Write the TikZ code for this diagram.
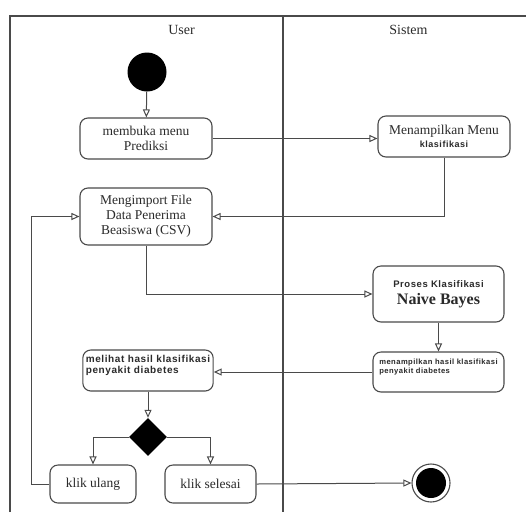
\documentclass[tikz,border=0pt]{standalone}
\usepackage{fontspec}
\setmainfont{Liberation Serif}
\newfontfamily\sansb{Liberation Sans}[LetterSpace=6]
\usetikzlibrary{arrows.meta,shapes.geometric}
\definecolor{ln}{HTML}{4A4A4A}
\definecolor{tx}{HTML}{2A2A2A}
\newcommand{\serif}{\fontsize{13.5}{15}\selectfont}
\begin{document}
\begin{tikzpicture}[x=1pt,y=-1pt,
  act/.style={draw=ln,line width=1.1pt,rectangle,rounded corners=8pt,inner sep=2pt,text=tx,align=center,font=\serif},
  flow/.style={draw=ln,line width=1pt,-{Triangle[open,length=8pt,width=7pt,line width=1pt]}},
  lane/.style={draw=ln,line width=1.2pt},
  lanetitle/.style={text=tx,font=\fontsize{14}{16}\selectfont}]
\useasboundingbox (0,0) rectangle (526,512);
\fill[white] (0,0) rectangle (526,512);
% swimlanes
\draw[lane] (10,512) -- (10,16) -- (526,16);
\draw[lane] (283,16) -- (283,512);
\node[lanetitle] (tuser) at (181.5,30) {User};
\node[lanetitle] (tsis) at (408.5,30) {Sistem};
% nodes
\node[circle,fill=black,minimum size=39pt,inner sep=0] (start) at (147,72) {};
\node[act,minimum width=132pt,minimum height=41pt] (b1) at (146,138.5) {membuka menu\\Prediksi};
\node[act,minimum width=132pt,minimum height=41pt] (b2) at (444,136.5) {Menampilkan Menu\\[-2pt]{\sansb\bfseries\fontsize{9}{10}\selectfont klasifikasi}};
\node[act,minimum width=132pt,minimum height=57pt] (b3) at (146,216.5) {Mengimport File\\Data Penerima\\Beasiswa (CSV)};
\node[act,minimum width=131pt,minimum height=56pt] (b4) at (438.5,294) {{\sansb\bfseries\fontsize{9.5}{11}\selectfont Proses Klasifikasi}\\[2pt]{\bfseries\fontsize{16}{17}\selectfont Naive Bayes}};
\node[act,minimum width=131pt,minimum height=40pt,align=left,inner xsep=4pt,font=\sansb\bfseries\fontsize{7.6}{9.5}\selectfont] (b5) at (438.5,372) {menampilkan hasil klasifikasi\\penyakit diabetes\\[2pt]};
\node[act,minimum width=130pt,minimum height=41pt,align=left,inner xsep=3pt,font=\sansb\bfseries\fontsize{10}{11.5}\selectfont] (b6) at (148,370.5) {melihat hasil klasifikasi\\penyakit diabetes\\[1pt]};
\node[diamond,fill=black,minimum width=38pt,minimum height=38pt,inner sep=0] (dec) at (148,437) {};
\node[act,minimum width=86pt,minimum height=38pt] (b7) at (93,484) {klik ulang};
\node[act,minimum width=91pt,minimum height=38pt] (b8) at (210.5,484) {klik selesai};
\node[circle,draw=ln,line width=1.1pt,minimum size=38pt,inner sep=0] (end) at (431,483) {};
\node[circle,fill=black,minimum size=30pt,inner sep=0] (endin) at (431,483) {};
\coordinate (loop) at (31,484);
% connectors
\draw[flow] (start) -- (b1);
\draw[flow] (b1.east) -- (b1.east -| b2.west);
\draw[flow] (b2.south) |- (b3.east);
\draw[flow] (b3.south) |- (b4.west);
\draw[flow] (b4.south) -- (b5.north);
\draw[flow] (b5.west) -- (b5.west -| b6.east);
\draw[flow] (b6.south) -- (dec.north);
\draw[flow] (dec.west) -| (b7.north);
\draw[flow] (dec.east) -| (b8.north);
\draw[flow] (b7.west) -- (loop) |- (b3.west);
\draw[flow] (b8.east) -- (end.west);
\end{tikzpicture}
\end{document}
